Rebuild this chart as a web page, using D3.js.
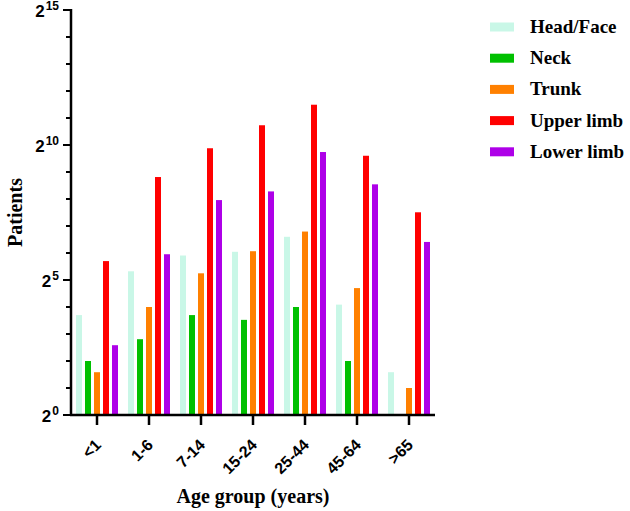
<!DOCTYPE html>
<html>
<head>
<meta charset="utf-8">
<script src="https://cdn.jsdelivr.net/npm/d3@7"></script>
<style>
  body { margin: 0; background: #fff; }
</style>
</head>
<body>
<div id="chart"></div>
<script>
let ageGroups = ["<1", "1-6", "7-14", "15-24", "25-44", "45-64", ">65"];
let regions = ["Head/Face", "Neck", "Trunk", "Upper limb", "Lower limb"];
let colors = ["#c9f7e7", "#00c000", "#ff8000", "#ff0000", "#ae00e8"];

// patients per age group, one array per body region
let headFace  = [13, 40, 60, 66, 97, 17, 3];
let neck      = [4, 7, 13, 11.5, 16, 4, 0];
let trunk     = [3, 16, 38, 67, 111, 26, 2];
let upperLimb = [52, 450, 942, 1700, 2880, 777, 182];
let lowerLimb = [6, 62, 249, 311, 855, 373, 85];
let series = [headFace, neck, trunk, upperLimb, lowerLimb];

let yPowers = [0, 5, 10, 15];

let width = 630, height = 511;
let margin = ({top: 10, right: 195, bottom: 96, left: 71});

let x = d3.scaleBand()
    .domain(ageGroups)
    .range([margin.left, width - margin.right])
    .padding(0);

let y = d3.scaleLog()
    .base(2)
    .domain([1, Math.pow(2, 15)])
    .range([height - margin.bottom, margin.top]);

let barStep = 9, barWidth = 6;

let svg = d3.select("#chart")
    .append("svg")
    .attr("width", width)
    .attr("height", height);

// bars
let data = [];
series.forEach((s, j) => s.forEach((v, i) => data.push({group: ageGroups[i], j: j, value: v})));

svg.append("g")
    .selectAll("rect")
    .data(data.filter(d => d.value > 0))
    .join("rect")
    .attr("x", d => x(d.group) + x.bandwidth() / 2 + (d.j - 2) * barStep - barWidth / 2)
    .attr("width", barWidth)
    .attr("y", d => y(d.value))
    .attr("height", d => y(1) - y(d.value))
    .attr("fill", d => colors[d.j]);

// y axis
let yAxis = g => g
    .attr("transform", `translate(${margin.left},0)`)
    .call(g => g.append("line")
        .attr("y1", y(Math.pow(2, 15)) - 1)
        .attr("y2", y(1) + 1)
        .attr("stroke", "#000")
        .attr("stroke-width", 2.5))
    .call(g => g.selectAll(".minor")
        .data(d3.range(0, 16))
        .join("line")
        .attr("x1", p => yPowers.includes(p) ? -8 : -5)
        .attr("x2", 0)
        .attr("y1", p => y(Math.pow(2, p)))
        .attr("y2", p => y(Math.pow(2, p)))
        .attr("stroke", "#000")
        .attr("stroke-width", 2))
    .call(g => {
        let t = g.selectAll(".lbl")
            .data(yPowers)
            .join("text")
            .attr("x", -12)
            .attr("y", p => y(Math.pow(2, p)) + 6.5)
            .attr("text-anchor", "end")
            .attr("font-family", "Liberation Sans, Arial, sans-serif")
            .attr("font-weight", "bold");
        t.append("tspan").attr("font-size", 17).text("2");
        t.append("tspan").attr("font-size", 12).attr("dx", 1).attr("dy", -6.5).text(p => p);
    });

// x axis
let xAxis = g => g
    .attr("transform", `translate(0,${y(1)})`)
    .call(g => g.append("line")
        .attr("x1", margin.left - 1)
        .attr("x2", width - margin.right)
        .attr("stroke", "#000")
        .attr("stroke-width", 2.5))
    .call(g => g.selectAll(".tick")
        .data(ageGroups)
        .join("line")
        .attr("x1", d => x(d) + x.bandwidth() / 2)
        .attr("x2", d => x(d) + x.bandwidth() / 2)
        .attr("y1", 1)
        .attr("y2", 10)
        .attr("stroke", "#000")
        .attr("stroke-width", 2.5))
    .call(g => g.selectAll("text")
        .data(ageGroups)
        .join("text")
        .attr("transform", d => `translate(${x(d) + x.bandwidth() / 2 + 5},31) rotate(-45)`)
        .attr("text-anchor", "end")
        .attr("font-family", "Liberation Sans, Arial, sans-serif")
        .attr("font-weight", "bold")
        .attr("font-size", 16)
        .text(d => d));

svg.append("g").call(xAxis);
svg.append("g").call(yAxis);

// axis titles
svg.append("text")
    .attr("transform", `translate(22,${(y(1) + y(Math.pow(2, 15))) / 2}) rotate(-90)`)
    .attr("text-anchor", "middle")
    .attr("font-family", "Liberation Serif, Times New Roman, serif")
    .attr("font-weight", "bold")
    .attr("font-size", 20)
    .text("Patients");

svg.append("text")
    .attr("x", (margin.left + width - margin.right) / 2)
    .attr("y", 503)
    .attr("text-anchor", "middle")
    .attr("font-family", "Liberation Serif, Times New Roman, serif")
    .attr("font-weight", "bold")
    .attr("font-size", 20)
    .text("Age group (years)");

// legend
let legend = svg.append("g")
    .selectAll("g")
    .data(regions)
    .join("g")
    .attr("transform", (d, i) => `translate(490,${27 + i * 31.2})`);

legend.append("rect")
    .attr("y", -4.5)
    .attr("width", 24)
    .attr("height", 9)
    .attr("fill", (d, i) => colors[i]);

legend.append("text")
    .attr("x", 40)
    .attr("y", 6)
    .attr("font-family", "Liberation Serif, Times New Roman, serif")
    .attr("font-weight", "bold")
    .attr("font-size", 19)
    .text(d => d);
</script>
</body>
</html>
